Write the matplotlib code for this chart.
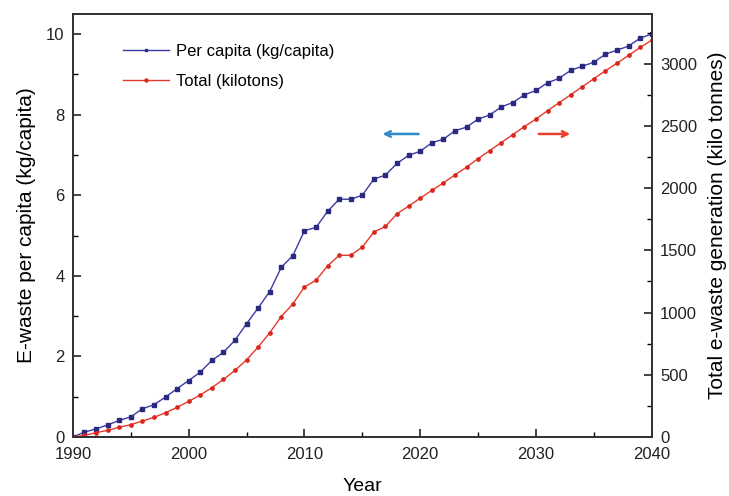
import numpy as np
import matplotlib.pyplot as plt
from matplotlib.ticker import MultipleLocator

plt.rcParams['font.family'] = ['Liberation Sans', 'DejaVu Sans']

# -----------------------
# DATA
# -----------------------
years = list(range(1990, 2041))

per_capita = [0.0, 0.12, 0.2, 0.3, 0.41, 0.5, 0.7, 0.8, 0.99, 1.2,
              1.4, 1.61, 1.9, 2.1, 2.4, 2.81, 3.2, 3.61, 4.21, 4.5,
              5.12, 5.2, 5.6, 5.9, 5.9, 6.0, 6.4, 6.5, 6.79, 6.99,
              7.09, 7.3, 7.39, 7.6, 7.69, 7.89, 7.99, 8.19, 8.3, 8.49,
              8.6, 8.79, 8.9, 9.1, 9.2, 9.3, 9.5, 9.6, 9.7, 9.9,
              10.0]

total_kt = [0, 13, 35, 53, 78, 99, 128, 158, 195, 238,
            286, 337, 396, 462, 535, 620, 722, 837, 968, 1069,
            1205, 1259, 1374, 1460, 1460, 1526, 1647, 1692, 1794, 1855,
            1919, 1981, 2042, 2106, 2168, 2237, 2301, 2366, 2430, 2494,
            2555, 2622, 2686, 2750, 2815, 2879, 2943, 3004, 3066, 3130,
            3189]

blue = '#3b3ba6'
red = '#e8382c'

fig = plt.figure(figsize=(7.29, 4.96), dpi=100)
ax = fig.add_axes([0.100, 0.119, 0.794, 0.853])
ax2 = ax.twinx()

l1, = ax.plot(years, per_capita, color=blue, lw=1.0, marker='s', ms=2.2,
              mfc='#2a2a80', mec='#2a2a80', label='Per capita (kg/capita)')
l2, = ax2.plot(years, total_kt, color=red, lw=1.0, marker='o', ms=2.4,
               mfc='#d8281e', mec='#d8281e', label='Total (kilotons)')

ax.set_xlim(1990, 2040)
ax.set_ylim(0, 10.5)
ax2.set_ylim(0, 3400)

ax.xaxis.set_major_locator(MultipleLocator(10))
ax.xaxis.set_minor_locator(MultipleLocator(5))
ax.yaxis.set_major_locator(MultipleLocator(2))
ax.yaxis.set_minor_locator(MultipleLocator(1))
ax2.yaxis.set_major_locator(MultipleLocator(500))
ax2.yaxis.set_minor_locator(MultipleLocator(250))

for a in (ax, ax2):
    a.tick_params(which='major', direction='in', length=6, width=1.2,
                  labelsize=12, colors='#222222', pad=6)
    a.tick_params(which='minor', direction='in', length=3.5, width=1.0)
    for s in a.spines.values():
        s.set_linewidth(1.3)
        s.set_color('#333333')
ax.tick_params(axis='x', pad=7)

ax.set_xlabel('Year', fontsize=14, labelpad=12)
ax.set_ylabel('E-waste per capita (kg/capita)', fontsize=15, labelpad=7)
ax2.set_ylabel('Total e-waste generation (kilo tonnes)', fontsize=15, labelpad=8)

# direction arrows
ax.annotate('', xy=(2016.5, 7.52), xytext=(2020.1, 7.52),
            arrowprops=dict(arrowstyle='->', color='#2e8ccc', lw=1.8))
ax.annotate('', xy=(2033.2, 7.52), xytext=(2030.0, 7.52),
            arrowprops=dict(arrowstyle='->', color='#e8412f', lw=1.8))

leg = ax.legend(handles=[l1, l2], loc='upper left', bbox_to_anchor=(0.06, 0.965),
                frameon=False, fontsize=12, handlelength=2.8, handletextpad=0.4,
                labelspacing=0.9, markerscale=0.9)

fig.savefig('out.png', dpi=100)
